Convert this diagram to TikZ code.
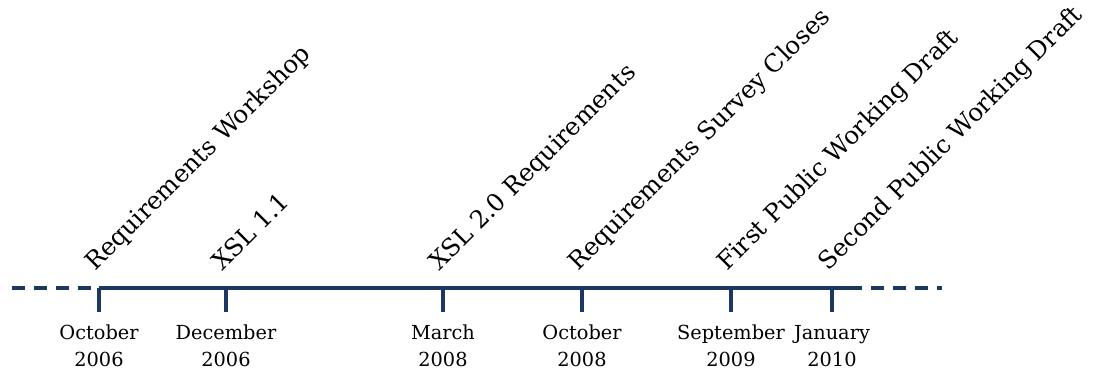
\documentclass[tikz,border=0pt]{standalone}
\usepackage{fontspec}
\setmainfont{DejaVu Serif}
\usepackage{tikz}
\usetikzlibrary{calc}

\definecolor{navy}{RGB}{28,55,98}

\begin{document}
\begin{tikzpicture}[x=0.75pt,y=0.75pt,
  axis/.style={draw=navy, line width=2.3pt},
  dashaxis/.style={axis, dash pattern=on 10pt off 6.5pt},
  event/.style={rotate=45, anchor=base west, inner sep=0pt, font=\fontsize{18.4}{22}\selectfont},
  date/.style={align=center, inner sep=0pt, font=\fontsize{14.5}{20.5}\selectfont}]
\useasboundingbox (0,0) rectangle (1097,372);

\coordinate (L0) at (12,84);
\coordinate (L1) at (99,84);
\coordinate (R1) at (849,84);
\coordinate (R0) at (942,84);

\coordinate (T1) at (99,84);
\coordinate (T2) at (226,84);
\coordinate (T3) at (443,84);
\coordinate (T4) at (582,84);
\coordinate (T5) at (731,84);
\coordinate (T6) at (832,84);

\draw[dashaxis] (L0) -- (L1);
\draw[axis] (L1) -- (R1);
\draw[dashaxis] (R1) -- (R0);

\draw[axis] (T1) -- ++(0,-24);
\draw[axis] (T2) -- ++(0,-24);
\draw[axis] (T3) -- ++(0,-24);
\draw[axis] (T4) -- ++(0,-24);
\draw[axis] (T5) -- ++(0,-24);
\draw[axis] (T6) -- ++(0,-24);

\node[event] (E1) at ($(T1)+(-4,16)$) {Requirements Workshop};
\node[event] (E2) at ($(T2)+(-4,16)$) {XSL 1.1};
\node[event] (E3) at ($(T3)+(-4,16)$) {XSL 2.0 Requirements};
\node[event] (E4) at ($(T4)+(-4,16)$) {Requirements Survey Closes};
\node[event] (E5) at ($(T5)+(-4,16)$) {First Public Working Draft};
\node[event] (E6) at ($(T6)+(-4,16)$) {Second Public Working Draft};

\node[date] (D1) at ($(T1)+(0,-58)$) {October\\2006};
\node[date] (D2) at ($(T2)+(0,-58)$) {December\\2006};
\node[date] (D3) at ($(T3)+(0,-58)$) {March\\2008};
\node[date] (D4) at ($(T4)+(0,-58)$) {October\\2008};
\node[date] (D5) at ($(T5)+(0,-58)$) {September\\2009};
\node[date] (D6) at ($(T6)+(0,-58)$) {January\\2010};

\end{tikzpicture}
\end{document}
